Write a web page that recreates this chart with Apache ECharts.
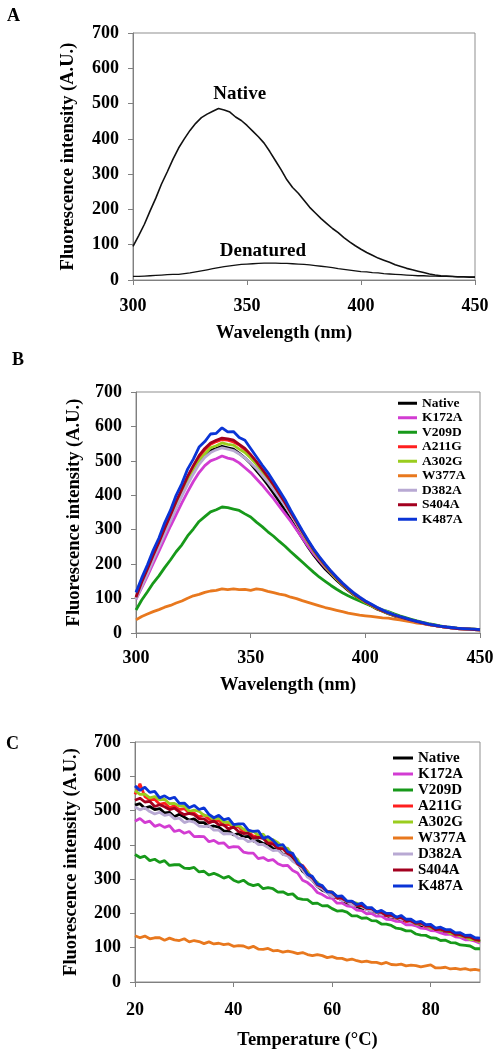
<!DOCTYPE html>
<html><head><meta charset="utf-8">
<script src="https://cdn.jsdelivr.net/npm/echarts@6/dist/echarts.min.js"></script>
<style>html,body{margin:0;padding:0;background:#fff}#c{width:498px;height:1056px}</style>
</head><body><div id="c"></div>
<script>
// ---------- shared axes ----------
const wavelength = [300,302.5,305,307.5,310,312.5,315,317.5,320,322.5,325,327.5,330,332.5,335,337.5,340,342.5,345,347.5,350,352.5,355,357.5,360,362.5,365,367.5,370,372.5,375,377.5,380,382.5,385,387.5,390,392.5,395,397.5,400,402.5,405,407.5,410,412.5,415,417.5,420,422.5,425,427.5,430,432.5,435,437.5,440,442.5,445,447.5,450];
const temperature = [20,21,22,23,24,25,26,27,28,29,30,31,32,33,34,35,36,37,38,39,40,41,42,43,44,45,46,47,48,49,50,51,52,53,54,55,56,57,58,59,60,61,62,63,64,65,66,67,68,69,70,71,72,73,74,75,76,77,78,79,80,81,82,83,84,85,86,87,88,89,90];
const yTicks = [0,100,200,300,400,500,600,700];
const xTicksWave = [300,350,400,450];
const xTicksTemp = [20,40,60,80];

// ---------- panel A ----------
const aNative = [95,126,158,196,232,272,306,342,374,400,424,444,460,470,478,486,482,476,462,452,438,422,406,388,364,338,312,284,262,246,226,206,190,174,160,146,134,120,108,97,87,78,70,62,56,50,43,38,33,29,25,21,17,14,12,11,10,9,9,8,8];
const aDenatured = [10,10,11,12,13,14,15,16,16,18,20,23,26,29,32,35,38,40,42,44,45,46,47,48,48,48,47,47,46,45,44,43,41,39,37,35,32,30,28,26,24,23,21,20,18,17,16,15,14,13,12,12,11,11,10,10,10,9,9,9,9];

// ---------- panel B (emission spectra) ----------
const bNative = [100,142,180,220,258,296,334,370,406,440,470,496,516,530,536,542,538,534,522,508,492,472,452,430,406,382,356,330,302,276,250,226,205,186,170,153,138,124,111,99,88,79,70,63,56,50,45,40,36,32,28,25,22,19,17,15,13,12,11,10,9];
const bK172A = [98,132,166,202,238,274,310,344,378,410,440,466,486,500,506,514,508,504,494,480,466,448,430,410,390,368,346,324,300,276,252,230,210,191,174,157,142,127,114,102,91,81,72,65,58,52,46,41,37,33,29,25,22,19,17,15,13,12,11,10,9];
const bV209D = [67,96,120,145,166,190,212,236,256,282,302,324,338,352,358,366,364,360,356,346,337,322,309,294,281,266,252,236,221,206,191,176,162,150,138,127,117,108,100,93,86,79,73,67,62,56,50,45,40,35,31,27,24,21,18,16,14,13,12,11,10];
const bA211G = [102,145,184,224,262,300,340,378,414,450,482,510,532,548,556,562,560,555,546,532,516,496,474,451,427,402,376,348,320,292,265,240,217,196,177,159,142,127,113,101,90,81,72,65,58,52,46,41,37,33,29,25,22,19,17,15,13,12,11,10,9];
const bA302G = [100,140,178,218,255,293,330,368,404,440,470,500,520,538,544,552,548,546,534,524,508,490,468,446,424,398,372,345,318,290,263,238,215,194,175,157,141,126,112,100,89,80,71,64,57,51,46,41,36,32,28,25,22,19,17,15,13,12,11,10,9];
const bW377A = [38,48,55,62,68,75,80,87,93,101,108,112,118,122,124,128,126,128,126,127,124,128,126,121,117,113,110,104,100,94,89,84,79,74,70,66,62,58,55,52,50,48,46,44,43,40,38,35,32,29,27,24,22,19,17,15,14,13,12,11,10];
const bD382A = [98,136,172,212,250,288,325,362,398,432,462,490,510,524,532,538,534,530,520,508,494,478,458,438,416,394,370,344,318,292,266,242,220,199,180,163,146,131,117,105,94,84,75,67,60,53,47,42,37,33,29,25,22,19,17,15,13,12,11,10,9];
const bS404A = [104,148,186,226,264,304,342,382,418,455,486,515,536,552,560,566,564,560,548,536,518,498,476,453,430,404,378,350,322,294,267,241,218,197,178,160,143,128,114,102,91,82,73,65,58,52,47,42,37,33,29,25,22,19,17,15,13,12,11,10,9];
const bK487A = [118,160,198,240,276,320,356,400,434,476,505,540,556,578,580,596,584,585,568,560,536,512,488,466,440,414,387,356,327,298,270,244,221,200,180,162,145,130,116,104,93,84,75,67,59,53,48,43,38,34,30,26,23,20,18,16,14,13,12,11,10];

// ---------- panel C (thermal unfolding) ----------
const cNative = [516,520,507,512,503,506,493,495,482,489,481,472,476,465,465,453,455,452,441,440,429,433,423,425,411,412,404,402,389,388,373,370,355,347,323,311,297,279,268,262,248,246,239,230,229,220,214,213,205,204,195,194,188,187,179,178,175,168,163,162,159,152,151,144,143,139,133,132,125,123,117];
const cK172A = [469,477,465,469,454,459,451,456,439,443,434,439,424,425,424,409,413,404,406,392,395,394,379,376,376,360,363,354,357,345,339,340,325,318,297,290,278,261,255,246,244,230,230,222,220,210,208,199,200,192,192,183,182,177,176,167,167,164,157,156,150,149,143,139,139,132,130,123,123,119,113];
const cV209D = [372,363,367,354,358,349,354,340,342,342,332,331,334,321,323,312,317,311,303,308,297,291,297,286,281,285,272,275,272,262,263,255,257,244,241,240,229,230,222,223,214,207,208,204,193,193,186,187,179,178,169,169,165,157,155,149,149,140,137,136,129,128,121,122,115,114,108,107,105,97,97];
const cA211G = [547,578,541,531,533,518,522,509,514,503,506,493,493,481,488,475,469,471,457,460,451,453,437,439,425,427,425,408,408,390,390,375,370,346,340,322,301,281,278,263,258,244,244,233,235,223,223,211,212,204,204,193,194,186,187,176,178,171,171,161,162,153,155,147,146,137,138,131,130,122,121];
const cA302G = [558,547,548,537,541,531,533,520,521,513,514,498,501,498,486,485,473,479,466,466,454,457,446,438,440,428,431,413,415,406,393,390,369,357,331,322,300,291,275,264,262,249,246,235,233,230,219,215,213,203,205,196,194,187,187,179,178,169,169,165,157,156,151,150,141,140,134,132,124,124,117];
const cW377A = [135,129,134,126,129,129,122,128,123,121,126,117,121,118,112,117,111,113,109,111,104,106,105,99,104,96,95,98,91,92,87,90,87,83,86,80,77,80,77,71,74,69,69,64,67,62,59,61,57,57,53,57,51,50,52,47,49,48,44,47,50,41,41,43,38,40,37,39,35,37,34];
const cD382A = [511,502,508,497,490,495,486,489,476,478,465,470,466,455,453,455,443,443,431,433,431,419,419,409,413,401,401,392,383,385,372,368,352,343,327,306,297,279,271,260,249,248,238,235,225,223,221,211,207,205,197,196,190,190,183,181,174,173,170,163,162,156,156,148,147,141,139,134,133,126,124];
const cS404A = [530,536,525,527,512,517,511,503,507,496,488,492,488,476,476,464,470,459,458,446,452,439,433,434,420,422,419,404,402,390,389,374,367,344,335,315,304,284,277,264,262,246,244,235,235,223,223,215,214,204,203,194,195,188,188,179,178,171,172,164,162,153,154,148,147,139,138,132,131,124,121];
const cK487A = [572,559,568,553,556,537,543,534,539,521,522,508,515,503,508,489,479,486,473,477,459,461,461,443,439,441,419,424,413,398,401,380,375,348,338,314,308,286,281,263,262,250,251,236,236,226,230,217,217,204,209,200,200,189,194,183,183,174,177,167,168,157,160,153,153,143,144,136,137,129,128];

const mutantNames = ['Native','K172A','V209D','A211G','A302G','W377A','D382A','S404A','K487A'];
const mutantColors = ['#000000','#d23cd2','#17991a','#ff1f1f','#9acd1e','#e8781e','#b8a9d3','#a3001f','#0a34d6'];
const panelB = [bNative,bK172A,bV209D,bA211G,bA302G,bW377A,bD382A,bS404A,bK487A];
const panelC = [cNative,cK172A,cV209D,cA211G,cA302G,cW377A,cD382A,cS404A,cK487A];

const FONT = "'Liberation Serif','Times New Roman',serif";
const AX = '#808080';
const pair = (xs, ys) => xs.map((x, i) => [x, ys[i]]);

function yAxis(gi, gap) {
  return {
    type: 'value', gridIndex: gi, min: 0, max: 700, interval: 100,
    name: 'Fluorescence intensity (A.U.)', nameLocation: 'middle', nameGap: gap,
    nameTextStyle: { fontFamily: FONT, fontWeight: 'bold', fontSize: 18.5, color: '#000' },
    axisLine: { show: true, lineStyle: { color: AX } },
    axisTick: { show: true, length: 5, lineStyle: { color: AX } },
    axisLabel: { fontFamily: FONT, fontWeight: 'bold', fontSize: 18, color: '#000', margin: 14 },
    splitLine: { show: false }
  };
}
function xAxis(gi, opt) {
  return Object.assign({
    type: 'value', gridIndex: gi, nameLocation: 'middle',
    axisLine: { show: true, onZero: false, lineStyle: { color: AX } },
    axisTick: { show: true, length: 5, lineStyle: { color: AX } },
    splitLine: { show: false }
  }, opt);
}
const lblStyle = (m) => ({ fontFamily: FONT, fontWeight: 'bold', fontSize: 18, color: '#000', margin: m });
const nameStyle = (pad) => ({ fontFamily: FONT, fontWeight: 'bold', fontSize: 18.5, color: '#000', padding: pad });
const annot = (txt) => ({ show: true, position: 'inside', formatter: txt, fontFamily: FONT, fontWeight: 'bold', fontSize: 19, color: '#000' });

const series = [];
series.push({
  type: 'line', xAxisIndex: 0, yAxisIndex: 0, name: 'A-Native', showSymbol: false, silent: true,
  data: pair(wavelength, aNative), lineStyle: { color: '#111', width: 1.6 },
  markPoint: { symbol: 'circle', symbolSize: 1, itemStyle: { color: 'rgba(0,0,0,0)' },
    label: annot('Native'), data: [{ coord: [346.8, 528], label: annot('Native') }] }
});
series.push({
  type: 'line', xAxisIndex: 0, yAxisIndex: 0, name: 'A-Denatured', showSymbol: false, silent: true,
  data: pair(wavelength, aDenatured), lineStyle: { color: '#111', width: 1.3 },
  markPoint: { symbol: 'circle', symbolSize: 1, itemStyle: { color: 'rgba(0,0,0,0)' },
    label: annot('Denatured'), data: [{ coord: [357, 82], label: annot('Denatured') }] }
});
mutantNames.forEach((n, k) => {
  series.push({ type: 'line', xAxisIndex: 1, yAxisIndex: 1, name: n, showSymbol: false,
    data: pair(wavelength, panelB[k]), color: mutantColors[k], lineStyle: { color: mutantColors[k], width: 2.8 } });
});
mutantNames.forEach((n, k) => {
  series.push({ type: 'line', xAxisIndex: 2, yAxisIndex: 2, name: n, showSymbol: false,
    data: pair(temperature, panelC[k]), color: mutantColors[k], lineStyle: { color: mutantColors[k], width: 2.8 } });
});

const legendBase = (left, top, fs, lh, iw) => ({
  orient: 'vertical', left: left, top: top, padding: 0, itemGap: 0,
  icon: 'rect', itemWidth: iw, itemHeight: 3,
  data: mutantNames,
  textStyle: { fontFamily: FONT, fontWeight: 'bold', fontSize: fs, lineHeight: lh, color: '#000' }
});

const option = {
  animation: false,
  backgroundColor: '#fff',
  grid: [
    { left: 133, top: 33, width: 342, height: 247, show: true, borderColor: '#8f8f8f', borderWidth: 1, backgroundColor: 'transparent' },
    { left: 136, top: 392, width: 344, height: 241, show: true, borderColor: '#8f8f8f', borderWidth: 1, backgroundColor: 'transparent' },
    { left: 135, top: 742, width: 345, height: 240, show: true, borderColor: '#8f8f8f', borderWidth: 1, backgroundColor: 'transparent' }
  ],
  xAxis: [
    xAxis(0, { min: xTicksWave[0], max: xTicksWave[3], interval: 50, name: 'Wavelength (nm)', nameGap: 44,
      nameTextStyle: nameStyle([0, 40, 0, 0]), axisLabel: lblStyle(17) }),
    xAxis(1, { min: xTicksWave[0], max: xTicksWave[3], interval: 50, name: 'Wavelength (nm)', nameGap: 43,
      nameTextStyle: nameStyle([0, 40, 0, 0]), axisLabel: lblStyle(16) }),
    xAxis(2, { min: xTicksTemp[0], max: 90, interval: 20, name: 'Temperature (°C)', nameGap: 49,
      nameTextStyle: nameStyle(0), axisLabel: Object.assign(lblStyle(19), { showMaxLabel: false }) })
  ],
  yAxis: [ yAxis(0, 55), yAxis(1, 48), yAxis(2, 54) ],
  legend: [ legendBase(398, 396, 13.5, 14.5, 19), legendBase(393, 750, 15, 16, 20) ],
  graphic: [
    { type: 'text', left: 7, top: 7, style: { text: 'A', font: "bold 18px 'Liberation Serif', serif", fill: '#000' } },
    { type: 'text', left: 12, top: 351, style: { text: 'B', font: "bold 18px 'Liberation Serif', serif", fill: '#000' } },
    { type: 'text', left: 6, top: 735, style: { text: 'C', font: "bold 18px 'Liberation Serif', serif", fill: '#000' } }
  ],
  series: series
};
const chart = echarts.init(document.getElementById('c'), null, { renderer: 'canvas' });
chart.setOption(option);
</script>
</body></html>
